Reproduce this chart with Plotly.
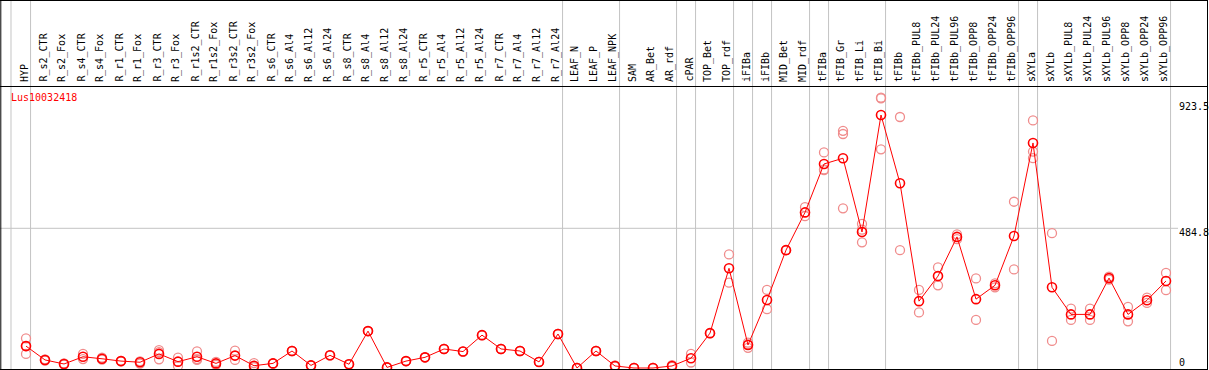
import plotly.graph_objects as go

categories = ["HYP", "R_s2_CTR", "R_s2_Fox", "R_s4_CTR", "R_s4_Fox", "R_r1_CTR", "R_r1_Fox",
              "R_r3_CTR", "R_r3_Fox", "R_r1s2_CTR", "R_r1s2_Fox", "R_r3s2_CTR", "R_r3s2_Fox",
              "R_s6_CTR", "R_s6_Al4", "R_s6_Al12", "R_s6_Al24", "R_s8_CTR", "R_s8_Al4", "R_s8_Al12",
              "R_s8_Al24", "R_r5_CTR", "R_r5_Al4", "R_r5_Al12", "R_r5_Al24", "R_r7_CTR", "R_r7_Al4",
              "R_r7_Al12", "R_r7_Al24", "LEAF_N", "LEAF_P", "LEAF_NPK", "SAM", "AR_Bet", "AR_rdf",
              "cPAR", "TOP_Bet", "TOP_rdf", "iFIBa", "iFIBb", "MID_Bet", "MID_rdf", "tFIBa",
              "tFIB_Gr", "tFIB_Li", "tFIB_Bi", "tFIBb", "tFIBb_PUL8", "tFIBb_PUL24", "tFIBb_PUL96",
              "tFIBb_OPP8", "tFIBb_OPP24", "tFIBb_OPP96", "sXYLa", "sXYLb", "sXYLb_PUL8",
              "sXYLb_PUL24", "sXYLb_PUL96", "sXYLb_OPP8", "sXYLb_OPP24", "sXYLb_OPP96"]

mean_values = [76, 28, 14, 39, 32, 24, 20, 49, 22, 39, 16, 43, 8,
               16, 59, 9, 44, 13, 128, 2, 24, 37, 66, 57, 114, 66, 59, 21, 118,
               0, 59, 7, 0, 0, 7, 34, 121, 346, 80, 236, 409, 540, 708,
               728, 472, 878, 641, 232, 319, 455, 239, 287, 458, 781, 280, 186,
               186, 312, 186, 235, 302]

rep_a = [103, 30, 16, 49, 36, 25, 23, 62, 36, 58, 21, 60, 17,
         16, 59, 9, 44, 13, 128, 2, 24, 37, 66, 57, 114, 66, 59, 21, 118,
         0, 59, 9, 0, 0, 10, 49, 121, 394, 88, 271, 409, 558, 748,
         823, 500, 936, 871, 271, 349, 464, 311, 294, 577, 859, 468, 206,
         206, 317, 212, 244, 330]
rep_b = [49, 26, 12, 31, 29, 23, 15, 30, 7, 28, 11, 28, 3,
         16, 59, 9, 44, 13, 128, 2, 24, 37, 66, 57, 114, 66, 59, 21, 118,
         0, 59, 5, 0, 0, 4, 19, 121, 296, 70, 204, 409, 527, 687,
         812, 436, 938, 409, 193, 287, 447, 167, 280, 342, 751, 94, 167,
         167, 307, 162, 226, 270]
rep_c = [76, None, None, None, None, None, None, 55, None, 31, None, None, 4,
         None, None, None, None, None, None, None, None, None, None, None, None, None, None, None, None,
         None, None, None, None, None, None, None, None, None, 82, None, None, None, 689,
         554, 480, 759, None, None, None, None, None, None, None, 728, None, None,
         None, None, None, None, None]

gene_name = "Lus10032418"
tick_values = [923.5, 484.8, 0]
tick_labels = ["923.5", "484.8", "0"]
group_first = ["HYP"]
group_last = ["HYP", "R_r7_Al24", "LEAF_NPK", "AR_rdf", "cPAR", "TOP_rdf", "iFIBa", "iFIBb",
              "MID_rdf", "tFIBa", "tFIB_Bi", "tFIBb_OPP96", "sXYLa", "sXYLb_OPP96"]

W, H = 1209, 370
STEP = 19.0
X0PX = 26.0
ZERO_PX = 368.0
K = (368.0 - 228.3) / 484.8

x_idx = list(range(len(categories)))
x_range = [-X0PX / STEP, (W - X0PX) / STEP]
y_range = [-(H - ZERO_PX) / K, ZERO_PX / K]

def py(p):
    return 1 - p / H

def px(p):
    return p / W

fig = go.Figure()

rep_x, rep_y = [], []
for arr in (rep_a, rep_b, rep_c):
    for i, v in enumerate(arr):
        if v is not None:
            rep_x.append(i)
            rep_y.append(v)

fig.add_trace(go.Scatter(x=rep_x, y=rep_y, mode="markers",
                         marker=dict(symbol="circle-open", size=9, color="#f08c8c",
                                     line=dict(width=1.3, color="#f08c8c")),
                         hoverinfo="skip", showlegend=False))
fig.add_trace(go.Scatter(x=x_idx, y=mean_values, mode="lines+markers",
                         line=dict(color="#ff0000", width=1),
                         marker=dict(symbol="circle-open", size=9, color="#ff0000",
                                     line=dict(width=1.6, color="#ff0000")),
                         showlegend=False))

shapes = []
grid_color = "#c4c4c4"
for name in group_first:
    xv = categories.index(name) - 0.79
    shapes.append(dict(type="line", xref="x", yref="paper", x0=xv, x1=xv, y0=0, y1=1,
                       line=dict(color=grid_color, width=1), layer="below"))
for name in group_last:
    xv = categories.index(name) + 0.24
    shapes.append(dict(type="line", xref="x", yref="paper", x0=xv, x1=xv, y0=0, y1=1,
                       line=dict(color=grid_color, width=1), layer="below"))
shapes.append(dict(type="line", xref="paper", yref="y", x0=0, x1=px(1178), y0=tick_values[1],
                   y1=tick_values[1], line=dict(color=grid_color, width=1), layer="below"))
black = "#000000"
shapes.append(dict(type="line", xref="paper", yref="paper", x0=0, x1=px(1208), y0=py(0.5), y1=py(0.5),
                   line=dict(color=black, width=1)))
shapes.append(dict(type="line", xref="paper", yref="paper", x0=0, x1=px(1208), y0=py(86.5), y1=py(86.5),
                   line=dict(color=black, width=1)))
shapes.append(dict(type="line", xref="paper", yref="paper", x0=0, x1=px(1208), y0=py(369.5), y1=py(369.5),
                   line=dict(color=black, width=1)))
shapes.append(dict(type="line", xref="paper", yref="paper", x0=px(0.8), x1=px(0.8), y0=0, y1=1,
                   line=dict(color=black, width=1)))
shapes.append(dict(type="line", xref="paper", yref="paper", x0=px(1207.5), x1=px(1207.5), y0=0, y1=1,
                   line=dict(color=black, width=1)))

annotations = []
mono = "DejaVu Sans Mono"
for i, name in enumerate(categories):
    annotations.append(dict(x=i, y=py(84), xref="x", yref="paper", text=name, textangle=-90,
                            showarrow=False, xanchor="center", yanchor="bottom", xshift=-2,
                            font=dict(family=mono, size=10, color="black")))
annotations.append(dict(x=px(9), y=py(97), xref="paper", yref="paper", text=gene_name,
                        showarrow=False, xanchor="left", yanchor="middle",
                        font=dict(family=mono, size=10, color="#ff0000")))
label_py = [107, 232.5, 362.5]
for lab, p in zip(tick_labels, label_py):
    annotations.append(dict(x=px(1177), y=py(p), xref="paper", yref="paper", text=lab,
                            showarrow=False, xanchor="left", yanchor="middle",
                            font=dict(family=mono, size=10, color="black")))

fig.update_layout(width=W, height=H, autosize=False,
                  margin=dict(l=0, r=0, t=0, b=0, pad=0),
                  paper_bgcolor="white", plot_bgcolor="white",
                  xaxis=dict(range=x_range, visible=False, fixedrange=True),
                  yaxis=dict(range=y_range, visible=False, fixedrange=True),
                  shapes=shapes, annotations=annotations, showlegend=False)

fig.write_html("out.html", config={"displayModeBar": False},
               post_script="document.body.style.margin='0px';document.body.style.overflow='hidden';")
